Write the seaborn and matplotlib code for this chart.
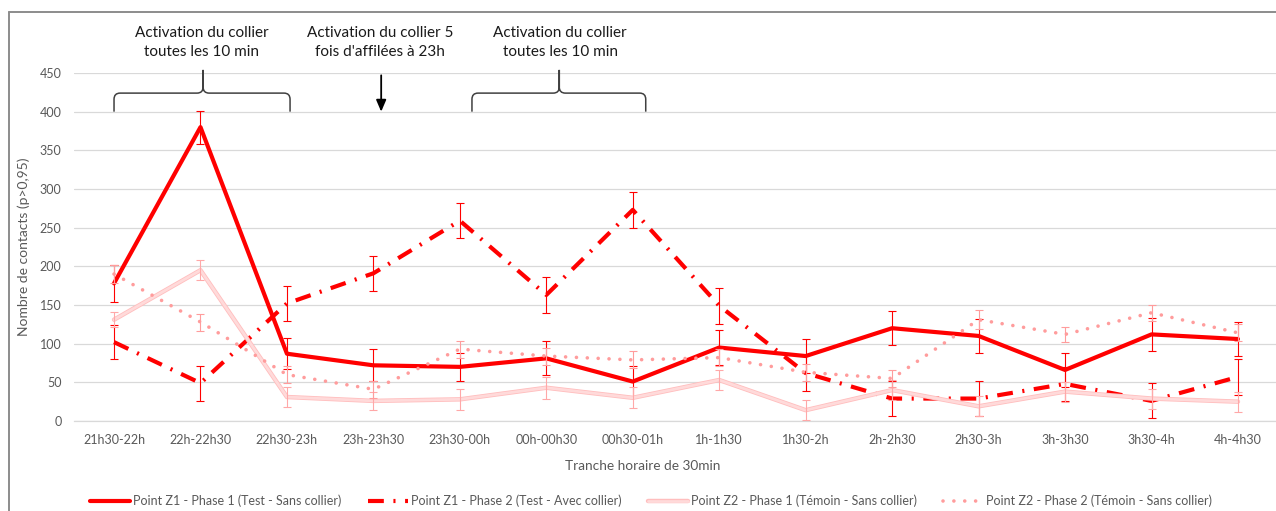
import numpy as np
import pandas as pd
import matplotlib
matplotlib.use("Agg")
import matplotlib.pyplot as plt
import seaborn as sns
from matplotlib.path import Path
from matplotlib.patches import PathPatch
from matplotlib.lines import Line2D
import matplotlib.patheffects as pe

# ---------------- data ----------------
categories = ["21h30-22h", "22h-22h30", "22h30-23h", "23h-23h30", "23h30-00h",
              "00h-00h30", "00h30-01h", "1h-1h30", "1h30-2h", "2h-2h30",
              "2h30-3h", "3h-3h30", "3h30-4h", "4h-4h30"]

z1_phase1 = [178, 380, 87, 72, 70, 81, 51, 95, 84, 120, 110, 66, 112, 106]
z1_phase1_err = [24, 21.5, 20, 20.5, 18, 22, 20, 23, 22, 22, 22, 21.5, 21, 21.5]

z1_phase2 = [102, 49, 152, 191, 259, 163, 273, 149, 62, 29, 29, 48, 26, 57]
z1_phase2_err = [22, 22.5, 22.5, 23, 23, 23, 23, 23.5, 23, 23, 23, 22, 22.5, 23]

z2_phase1 = [131, 195, 31, 26, 28, 43, 30, 53, 14, 40, 19, 38, 29, 25]
z2_phase1_err = [10, 13, 13, 12, 14, 14.5, 13.5, 13.5, 13, 13, 13, 13, 13, 13]

z2_phase2 = [190, 128, 60, 41, 93, 84, 79, 82, 63, 55, 131, 112, 140, 114]
z2_phase2_err = [12, 11, 11, 11, 11, 11, 11, 11, 11, 11, 12, 10, 10.5, 11]

series_labels = ["Point Z1 - Phase 1 (Test - Sans collier)",
                 "Point Z1 - Phase 2 (Test - Avec collier)",
                 "Point Z2 - Phase 1 (Témoin - Sans collier)",
                 "Point Z2 - Phase 2 (Témoin - Sans collier)"]

annotation_texts = ["Activation du collier\ntoutes les 10 min",
                    "Activation du collier 5\nfois d'affilées à 23h",
                    "Activation du collier\ntoutes les 10 min"]

# ---------------- style ----------------
sns.set_style("white")
plt.rcParams['font.family'] = ['Lato', 'DejaVu Sans']

W, H = 1276, 511
fig = plt.figure(figsize=(W / 100, H / 100), dpi=100)
ax = fig.add_axes([74 / W, 1 - 421 / H, 1 - 74 / W, (421 - 73) / H])

pos = np.arange(len(categories))

styles = [
    dict(color="#FF0000", lw=3.0, ls="-", ecolor="#FF0000"),
    dict(color="#FF0000", lw=3.0, ls=(0, (3.8, 2.3, 0.5, 2.3)), ecolor="#FF0000"),
    dict(color="#FFDADA", lw=2.0, ls="-", ecolor="#FFA8A8"),
    dict(color="#FF9C9C", lw=2.6, ls=(0, (0.01, 3.0)), ecolor="#FF9C9C"),
]
values = [z1_phase1, z1_phase2, z2_phase1, z2_phase2]
errors = [z1_phase1_err, z1_phase2_err, z2_phase1_err, z2_phase2_err]

handles = []
for i, (vals, errs, st, lab) in enumerate(zip(values, errors, styles, series_labels)):
    df = pd.DataFrame({"pos": pos, "value": vals})
    n_before = len(ax.lines)
    sns.lineplot(data=df, x="pos", y="value", ax=ax, color=st["color"],
                 linewidth=st["lw"], linestyle=st["ls"], label=lab,
                 legend=False, zorder=3 + i)
    line = ax.lines[n_before]
    if i == 3:
        line.set_dash_capstyle("round")
    if i == 2:
        line.set_path_effects([pe.Stroke(linewidth=3.2, foreground="#FFBEBE"),
                               pe.Normal()])
    handles.append(line)
    ax.errorbar(pos, vals, yerr=errs, fmt="none", ecolor=st["ecolor"],
                elinewidth=0.8, capsize=2.6, capthick=0.8, zorder=3.5 + i)

ax.set_xlim(-0.463, 13.44)
ax.set_ylim(0, 450)
ax.set_yticks(np.arange(0, 451, 50))
ax.set_xticks(pos)
ax.set_xticklabels(categories)
ax.set_xlabel("")
ax.set_ylabel("")
ax.grid(axis="y", color="#D9D9D9", linewidth=0.9)
ax.set_axisbelow(True)
for s in ["top", "right", "left"]:
    ax.spines[s].set_visible(False)
ax.spines["bottom"].set_color("#D9D9D9")
ax.spines["bottom"].set_linewidth(0.9)
ax.tick_params(axis="both", length=0, colors="#595959", labelsize=9)
ax.tick_params(axis="y", pad=9)
ax.tick_params(axis="x", pad=9)

# axis titles
fig.text(24 / W, 1 - 247 / H, "Nombre de contacts (p>0,95)", rotation=90,
         ha="center", va="center", fontsize=10, color="#595959")
fig.text(643 / W, 1 - 466 / H, "Tranche horaire de 30min",
         ha="center", va="center", fontsize=9.8, color="#595959")

# braces
def brace(x0, x1, xm, ybot=400, ymid=424, ytop=454, rx=0.07, ry=8):
    verts = [(x0, ybot), (x0, ymid - ry), (x0, ymid), (x0 + rx, ymid),
             (xm - rx, ymid), (xm, ymid), (xm, ymid + ry), (xm, ytop),
             (xm, ymid + ry), (xm, ymid), (xm + rx, ymid),
             (x1 - rx, ymid), (x1, ymid), (x1, ymid - ry), (x1, ybot)]
    codes = [Path.MOVETO, Path.LINETO, Path.CURVE3, Path.CURVE3,
             Path.LINETO, Path.CURVE3, Path.CURVE3, Path.LINETO,
             Path.LINETO, Path.CURVE3, Path.CURVE3,
             Path.LINETO, Path.CURVE3, Path.CURVE3, Path.LINETO]
    p = PathPatch(Path(verts, codes), facecolor="none", edgecolor="#404040",
                  lw=1.1, clip_on=False, zorder=10)
    ax.add_patch(p)

brace(0.0, 2.036, 1.03)
brace(4.14, 6.15, 5.15)

ax.annotate("", xy=(3.09, 400), xytext=(3.09, 447), xycoords="data",
            arrowprops=dict(arrowstyle="-|>,head_length=0.7,head_width=0.3",
                            color="black", lw=1.3, shrinkA=0, shrinkB=0),
            annotation_clip=False, zorder=10)

text_x = [1.01, 3.08, 5.16]
for tx, t in zip(text_x, annotation_texts):
    ax.text(tx, 490, t, ha="center", va="center", fontsize=11,
            color="#1A1A1A", linespacing=1.45, clip_on=False)

# legend
fig.legend(handles, series_labels, loc="center",
           bbox_to_anchor=(651 / W, 1 - 501 / H), ncol=4, frameon=False,
           fontsize=9, handlelength=3.2, handletextpad=0.25,
           columnspacing=2.1, labelcolor="#595959")

# outer chart border
fig.add_artist(Line2D([9 / W, 9 / W], [0, 1 - 12 / H], transform=fig.transFigure,
                      color="#8C8C8C", lw=1.4))
fig.add_artist(Line2D([9 / W, 1], [1 - 12 / H, 1 - 12 / H], transform=fig.transFigure,
                      color="#8C8C8C", lw=1.4))

fig.savefig("out.png", dpi=100)
